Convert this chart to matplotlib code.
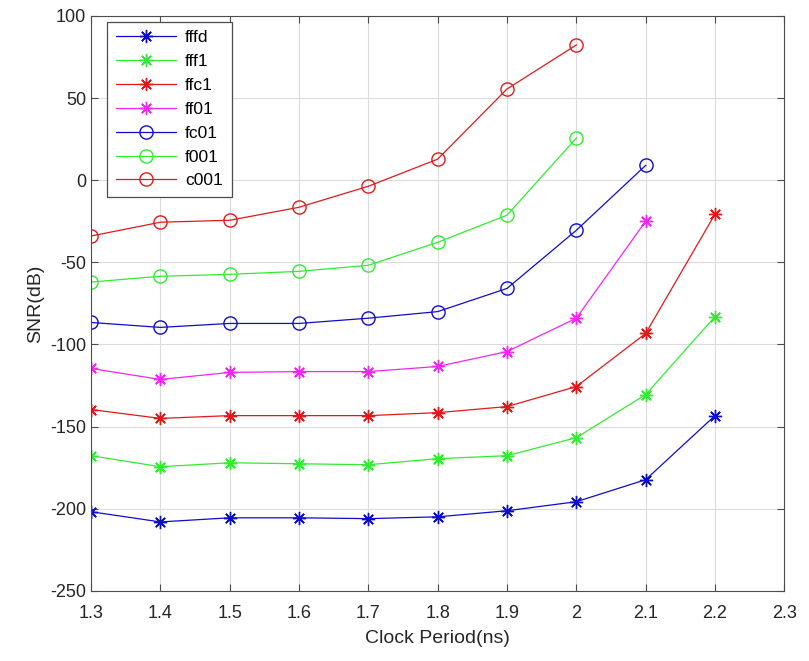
import numpy as np
import matplotlib
matplotlib.use('Agg')
import matplotlib.pyplot as plt

plt.rcParams['font.family'] = ['Liberation Sans', 'DejaVu Sans']
plt.rcParams['axes.unicode_minus'] = False

# clock period (ns)
period = [1.3, 1.4, 1.5, 1.6, 1.7, 1.8, 1.9, 2.0, 2.1, 2.2]

# SNR (dB)
fffd = [-201.8, -208, -205.5, -205.5, -206, -204.9, -201.2, -195.7, -182.3, -143.3]
fff1 = [-167.7, -174.4, -172, -172.6, -173.2, -169.5, -167.7, -156.7, -130.5, -83]
ffc1 = [-139.6, -145, -143.3, -143.3, -143.3, -141.5, -137.8, -125.6, -93.3, -20.7]
ff01 = [-114.6, -121.3, -117, -116.5, -116.5, -113.4, -104.3, -84, -25]
fc01 = [-86.6, -89.6, -87.2, -87.2, -84, -80, -65.9, -30.5, 9]
f001 = [-62, -58.5, -57.3, -55.5, -51.8, -37.8, -21.3, 25.6]
c001 = [-34, -25.6, -24.4, -16.5, -3.7, 12.8, 55.5, 82.3]

series = [
    ('fffd', fffd, 'b', '*'),
    ('fff1', fff1, 'g', '*'),
    ('ffc1', ffc1, 'r', '*'),
    ('ff01', ff01, 'm', '*'),
    ('fc01', fc01, 'b', 'o'),
    ('f001', f001, 'g', 'o'),
    ('c001', c001, 'r', 'o'),
]
colors = {'b': (0.05, 0.05, 0.8), 'g': (0.2, 0.92, 0.2), 'r': (0.88, 0.1, 0.1), 'm': (0.95, 0.15, 0.95)}

fig = plt.figure(figsize=(8.09, 6.61), dpi=100)
ax = fig.add_axes([0.1125, 0.106, 0.857, 0.87])

for name, vals, c, m in series:
    if m == '*':
        mk = (8, 2, 0)   # matlab-style asterisk
        ms = 9.5
    else:
        mk = 'o'
        ms = 9.5
    ax.plot(period[:len(vals)], vals, color=colors[c], marker=mk, lw=0.9,
            markersize=ms, markerfacecolor='none', markeredgewidth=1.0, label=name)

ax.set_xlim(1.3, 2.3)
ax.set_ylim(-250, 100)
ax.set_xticks(np.round(np.arange(1.3, 2.31, 0.1), 1))
ax.set_xticklabels(['1.3', '1.4', '1.5', '1.6', '1.7', '1.8', '1.9', '2', '2.1', '2.2', '2.3'])
ax.set_yticks(np.arange(-250, 101, 50))
ax.grid(True, color='#dcdcdc', lw=0.8)
ax.set_axisbelow(True)
for s in ax.spines.values():
    s.set_color('#4d4d4d')
ax.tick_params(direction='in', length=5, color='#4d4d4d', labelsize=13, labelcolor='#262626',
               top=True, right=True)
ax.tick_params(axis='x', pad=10)
ax.set_xlabel('Clock Period(ns)', fontsize=14, color='#262626', labelpad=6)
ax.set_ylabel('SNR(dB)', fontsize=14, color='#262626', labelpad=4)

leg = ax.legend(loc='upper left', bbox_to_anchor=(0.023, 0.99), borderaxespad=0,
                fontsize=12.5, fancybox=False, edgecolor='#4d4d4d', framealpha=1,
                handlelength=3.5, labelspacing=0.5, borderpad=0.5, handletextpad=0.5)
leg.get_frame().set_linewidth(0.9)

fig.savefig('out.png', dpi=100)
